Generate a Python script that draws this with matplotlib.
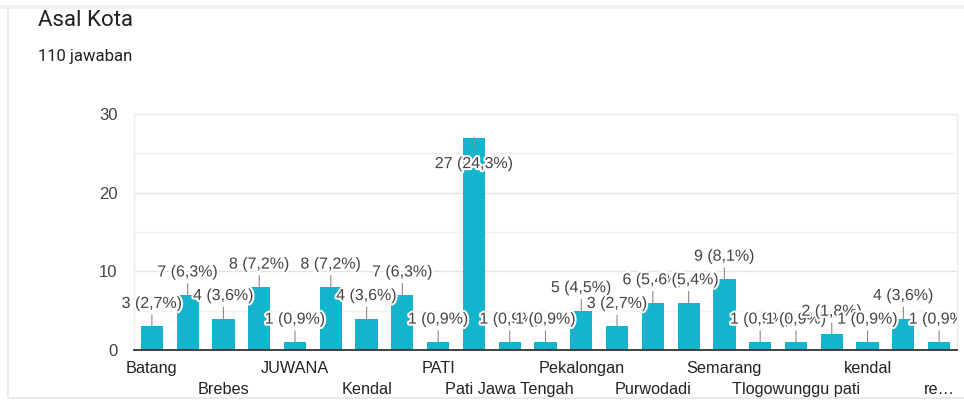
import matplotlib
matplotlib.use("Agg")
import matplotlib.pyplot as plt
import matplotlib.patheffects as pe
from matplotlib.patches import Rectangle
from matplotlib.transforms import Bbox

title = "Asal Kota"
subtitle = "110 jawaban"
categories = ["Batang", "Blora", "Brebes", "Demak", "JUWANA", "Jepara", "Kendal",
              "Kudus", "PATI", "Pati", "Pati Jawa Tengah", "Pati kota", "Pekalongan",
              "Pemalang", "Purwodadi", "Rembang", "Semarang", "Tegal",
              "Tlogowunggu pati", "Wonosobo", "kendal", "pati", "re…"]
values = [3, 7, 4, 8, 1, 8, 4, 7, 1, 27, 1, 1, 5, 3, 6, 6, 9, 1, 1, 2, 1, 4, 1]
percents = ["2,7", "6,3", "3,6", "7,2", "0,9", "7,2", "3,6", "6,3", "0,9", "24,3",
            "0,9", "0,9", "4,5", "2,7", "5,4", "5,4", "8,1", "0,9", "0,9", "1,8",
            "0,9", "3,6", "0,9"]
yticks = [0, 10, 20, 30]

W, H = 964, 401
fig = plt.figure(figsize=(W / 100, H / 100), dpi=100)
fig.patch.set_facecolor("white")

# card border
fig.add_artist(Rectangle((8 / W, 3 / H), 1.2, (H - 11) / H, transform=fig.transFigure,
                         fill=False, edgecolor="#e6e6e6", lw=1.2))
fig.add_artist(Rectangle((0, (H - 9) / H), 1, 4 / H, transform=fig.transFigure,
                         facecolor="#f1f1f1", edgecolor="none"))

fig.text(38 / W, 1 - 21 / H, title, fontsize=16, color="#202124",
         family="Roboto", va="center", ha="left")
fig.text(38 / W, 1 - 57 / H, subtitle, fontsize=12, color="#202124",
         family="Roboto", va="center", ha="left")

ax = fig.add_axes([134 / W, 1 - 350 / H, (957 - 134) / W, (350 - 114) / H])
x = list(range(len(values)))
bar_color = "#12B5CB"
ax.bar(x, values, width=0.62, color=bar_color, zorder=2)
ax.set_xlim(-0.5, len(values) - 0.5)
ax.set_ylim(0, 30)

ax.set_yticks(yticks)
ax.set_yticklabels([str(t) for t in yticks], fontsize=12, color="#444444",
                   family="Liberation Sans")
ax.set_yticks([5, 15, 25], minor=True)
ax.tick_params(axis="y", which="both", length=0, pad=12)
ax.grid(axis="y", which="major", color="#e3e3e3", lw=1, zorder=0)
ax.grid(axis="y", which="minor", color="#f2f2f2", lw=1, zorder=0)

xt = x[::2]
ax.set_xticks(xt)
ax.set_xticklabels([categories[i] for i in xt], fontsize=11.7, color="#222222",
                   family="Liberation Sans")
ax.tick_params(axis="x", length=0)
for k, tick in enumerate(ax.xaxis.get_major_ticks()):
    tick.set_pad(8 if k % 2 == 0 else 23)

for s in ["left", "right", "top"]:
    ax.spines[s].set_color("#ececec")
    ax.spines[s].set_linewidth(1)
ax.spines["bottom"].set_color("#333333")
ax.spines["bottom"].set_linewidth(1.3)
ax.spines["bottom"].set_zorder(3)

# labels may extend left of the plot, but are cut at its right edge
clip = Bbox([[0, 0], [957, H]])
ymax = ax.get_ylim()[1]
for i, (v, p) in enumerate(zip(values, percents)):
    up = v + 3.4 < ymax
    off = 23 if up else -26
    t = ax.annotate(f"{v} ({p}%)", xy=(i, v), xytext=(0, off),
                    textcoords="offset pixels", ha="center", va="center",
                    fontsize=11.5, color="#444444", family="Liberation Sans",
                    zorder=5,
                    arrowprops=dict(arrowstyle="-", color="#8a8a8a", lw=0.8,
                                    shrinkA=1, shrinkB=0))
    t.set_path_effects([pe.withStroke(linewidth=3, foreground="white")])
    t.set_clip_on(True)
    t.set_clip_box(clip)

fig.savefig("out.png", dpi=100)
